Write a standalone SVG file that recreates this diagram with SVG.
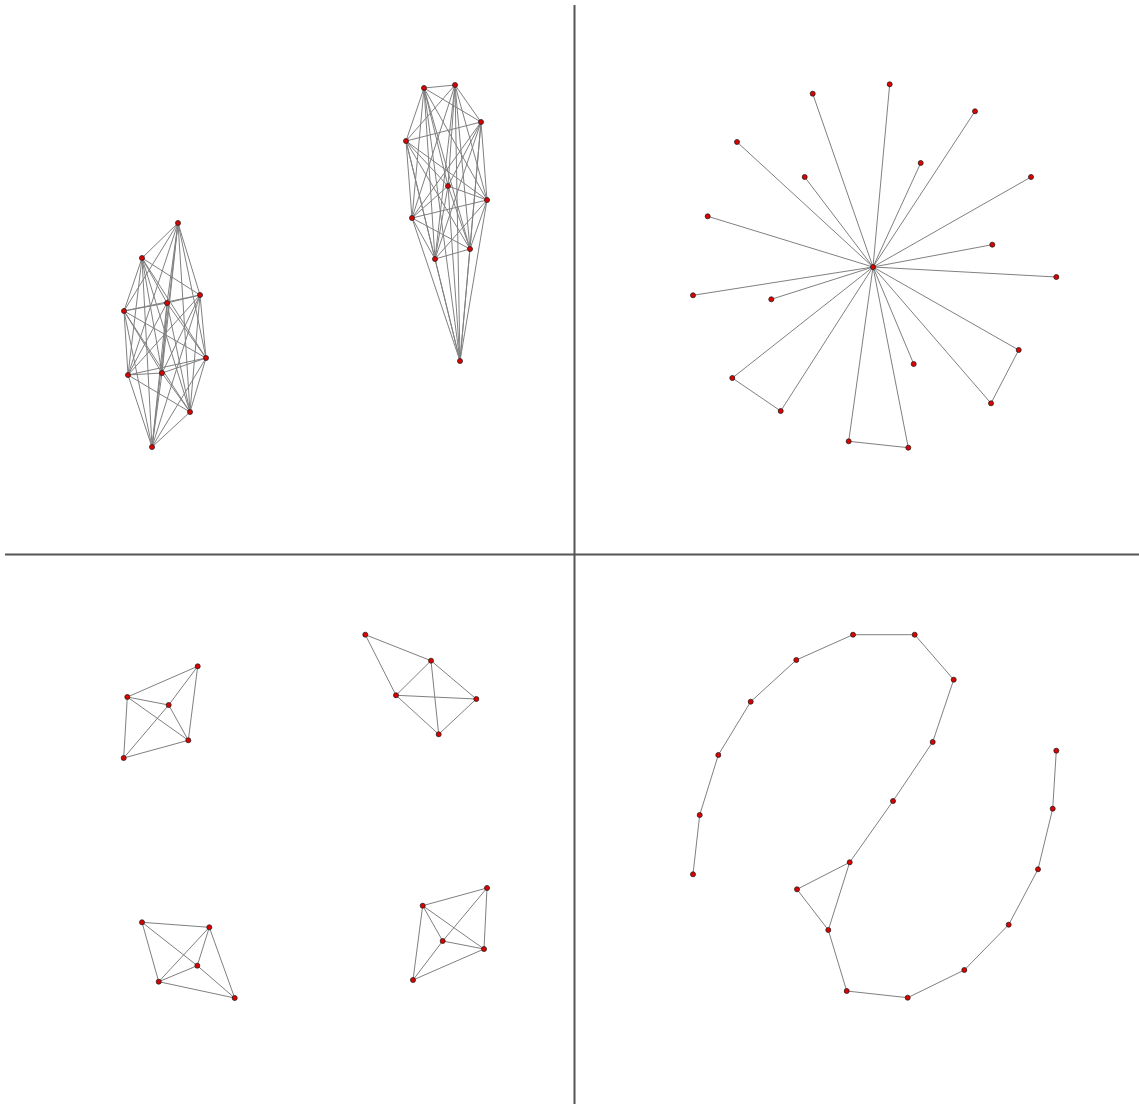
<svg xmlns="http://www.w3.org/2000/svg" width="1139" height="1104" viewBox="0 0 1139 1104">
<style>
.e{stroke:#808080;stroke-width:1;fill:none}
.n{fill:#e00000;stroke:#222;stroke-width:0.8}
.d{stroke:#555;stroke-width:2}
</style>
<rect width="1139" height="1104" fill="#fff"/>
<g id="dividers">
<line class="d" x1="574.5" y1="5" x2="574.5" y2="1104"/>
<line class="d" x1="5" y1="554.5" x2="1139" y2="554.5"/>
</g>
<g id="edges">
<!-- left K10 -->
<path class="e" d="M178 223L142 258M178 223L200 295M178 223L167 303M178 223L124 311M178 223L206 358M178 223L128 375M178 223L162 373M178 223L190 412M178 223L152 447
M142 258L200 295M142 258L167 303M142 258L124 311M142 258L206 358M142 258L128 375M142 258L162 373M142 258L190 412M142 258L152 447
M200 295L167 303M200 295L124 311M200 295L206 358M200 295L128 375M200 295L162 373M200 295L190 412M200 295L152 447
M167 303L124 311M167 303L206 358M167 303L128 375M167 303L162 373M167 303L190 412M167 303L152 447
M124 311L206 358M124 311L128 375M124 311L162 373M124 311L190 412M124 311L152 447
M206 358L128 375M206 358L162 373M206 358L190 412M206 358L152 447
M128 375L162 373M128 375L190 412M128 375L152 447
M162 373L190 412M162 373L152 447
M190 412L152 447"/>
<!-- right K10 -->
<path class="e" d="M424 88L455 85M424 88L481 122M424 88L406 141M424 88L448 186M424 88L487 200M424 88L412 218M424 88L435 259M424 88L470 249M424 88L460 361
M455 85L481 122M455 85L406 141M455 85L448 186M455 85L487 200M455 85L412 218M455 85L435 259M455 85L470 249M455 85L460 361
M481 122L406 141M481 122L448 186M481 122L487 200M481 122L412 218M481 122L435 259M481 122L470 249M481 122L460 361
M406 141L448 186M406 141L487 200M406 141L412 218M406 141L435 259M406 141L470 249M406 141L460 361
M448 186L487 200M448 186L412 218M448 186L435 259M448 186L470 249M448 186L460 361
M487 200L412 218M487 200L435 259M487 200L470 249M487 200L460 361
M412 218L435 259M412 218L470 249M412 218L460 361
M435 259L470 249M435 259L460 361
M470 249L460 361"/>
<!-- star -->
<path class="e" d="M873 267L889.7 84.3M873 267L812.7 93.7M873 267L975 111.3M873 267L737 142M873 267L920.7 163M873 267L804.7 177M873 267L1031 177M873 267L707.7 216.3M873 267L992.3 244.7M873 267L1056.3 277M873 267L693 295.3M873 267L771.3 299.3M873 267L1018.7 350M873 267L913.7 364M873 267L732.3 378M873 267L991 403.3M873 267L780.7 411M873 267L848.7 441.3M873 267L908.3 447.7
M732.3 378L780.7 411M1018.7 350L991 403.3M848.7 441.3L908.3 447.7"/>
<!-- cluster A -->
<path class="e" d="M197.7 666.3L127.3 697M197.7 666.3L168.7 705M197.7 666.3L188.3 740.3M127.3 697L168.7 705M127.3 697L188.3 740.3M127.3 697L123.7 758M168.7 705L188.3 740.3M168.7 705L123.7 758M188.3 740.3L123.7 758"/>
<!-- cluster B -->
<path class="e" d="M365.3 634.7L431 660.7M365.3 634.7L396 695.3M431 660.7L396 695.3M431 660.7L476.3 699M431 660.7L438.7 734.3M396 695.3L476.3 699M396 695.3L438.7 734.3M476.3 699L438.7 734.3"/>
<!-- cluster C -->
<path class="e" d="M142 922.3L209.3 927.3M142 922.3L158.7 981.7M142 922.3L197.3 965.7M209.3 927.3L158.7 981.7M209.3 927.3L197.3 965.7M209.3 927.3L234.7 998M197.3 965.7L158.7 981.7M158.7 981.7L234.7 998M197.3 965.7L234.7 998"/>
<!-- cluster D -->
<path class="e" d="M487 888L422.7 905.7M487 888L484 949M487 888L442.7 941M422.7 905.7L442.7 941M422.7 905.7L484 949M422.7 905.7L413 980M442.7 941L484 949M442.7 941L413 980M484 949L413 980"/>
<!-- path graph -->
<path class="e" d="M693 874.3L699.7 815L718.3 755L750.7 701.7L796.3 660L853 634.7L914.7 634.7L953.7 679.7L932.7 742L893 801L849.7 862.3L797 889.3L828.3 930L846.7 991L907.7 997.7L964.3 970L1008.7 924.7L1038 869.3L1052.7 808.7L1056.3 750.7M849.7 862.3L828.3 930"/>
</g>
<g id="nodes">
<g id="k10-left">
<circle class="n" cx="178" cy="223" r="2.5"/><circle class="n" cx="142" cy="258" r="2.5"/><circle class="n" cx="200" cy="295" r="2.5"/><circle class="n" cx="167" cy="303" r="2.5"/><circle class="n" cx="124" cy="311" r="2.5"/><circle class="n" cx="206" cy="358" r="2.5"/><circle class="n" cx="128" cy="375" r="2.5"/><circle class="n" cx="162" cy="373" r="2.5"/><circle class="n" cx="190" cy="412" r="2.5"/><circle class="n" cx="152" cy="447" r="2.5"/>
</g>
<g id="k10-right">
<circle class="n" cx="424" cy="88" r="2.5"/><circle class="n" cx="455" cy="85" r="2.5"/><circle class="n" cx="481" cy="122" r="2.5"/><circle class="n" cx="406" cy="141" r="2.5"/><circle class="n" cx="448" cy="186" r="2.5"/><circle class="n" cx="487" cy="200" r="2.5"/><circle class="n" cx="412" cy="218" r="2.5"/><circle class="n" cx="435" cy="259" r="2.5"/><circle class="n" cx="470" cy="249" r="2.5"/><circle class="n" cx="460" cy="361" r="2.5"/>
</g>
<g id="star">
<circle class="n" cx="873" cy="267" r="2.5"/><circle class="n" cx="889.7" cy="84.3" r="2.5"/><circle class="n" cx="812.7" cy="93.7" r="2.5"/><circle class="n" cx="975" cy="111.3" r="2.5"/><circle class="n" cx="737" cy="142" r="2.5"/><circle class="n" cx="920.7" cy="163" r="2.5"/><circle class="n" cx="804.7" cy="177" r="2.5"/><circle class="n" cx="1031" cy="177" r="2.5"/><circle class="n" cx="707.7" cy="216.3" r="2.5"/><circle class="n" cx="992.3" cy="244.7" r="2.5"/><circle class="n" cx="1056.3" cy="277" r="2.5"/><circle class="n" cx="693" cy="295.3" r="2.5"/><circle class="n" cx="771.3" cy="299.3" r="2.5"/><circle class="n" cx="1018.7" cy="350" r="2.5"/><circle class="n" cx="913.7" cy="364" r="2.5"/><circle class="n" cx="732.3" cy="378" r="2.5"/><circle class="n" cx="991" cy="403.3" r="2.5"/><circle class="n" cx="780.7" cy="411" r="2.5"/><circle class="n" cx="848.7" cy="441.3" r="2.5"/><circle class="n" cx="908.3" cy="447.7" r="2.5"/>
</g>
<g id="cluster-a">
<circle class="n" cx="197.7" cy="666.3" r="2.5"/><circle class="n" cx="127.3" cy="697" r="2.5"/><circle class="n" cx="168.7" cy="705" r="2.5"/><circle class="n" cx="188.3" cy="740.3" r="2.5"/><circle class="n" cx="123.7" cy="758" r="2.5"/>
</g>
<g id="cluster-b">
<circle class="n" cx="365.3" cy="634.7" r="2.5"/><circle class="n" cx="431" cy="660.7" r="2.5"/><circle class="n" cx="396" cy="695.3" r="2.5"/><circle class="n" cx="476.3" cy="699" r="2.5"/><circle class="n" cx="438.7" cy="734.3" r="2.5"/>
</g>
<g id="cluster-c">
<circle class="n" cx="142" cy="922.3" r="2.5"/><circle class="n" cx="209.3" cy="927.3" r="2.5"/><circle class="n" cx="197.3" cy="965.7" r="2.5"/><circle class="n" cx="158.7" cy="981.7" r="2.5"/><circle class="n" cx="234.7" cy="998" r="2.5"/>
</g>
<g id="cluster-d">
<circle class="n" cx="487" cy="888" r="2.5"/><circle class="n" cx="422.7" cy="905.7" r="2.5"/><circle class="n" cx="442.7" cy="941" r="2.5"/><circle class="n" cx="484" cy="949" r="2.5"/><circle class="n" cx="413" cy="980" r="2.5"/>
</g>
<g id="path-graph">
<circle class="n" cx="693" cy="874.3" r="2.5"/><circle class="n" cx="699.7" cy="815" r="2.5"/><circle class="n" cx="718.3" cy="755" r="2.5"/><circle class="n" cx="750.7" cy="701.7" r="2.5"/><circle class="n" cx="796.3" cy="660" r="2.5"/><circle class="n" cx="853" cy="634.7" r="2.5"/><circle class="n" cx="914.7" cy="634.7" r="2.5"/><circle class="n" cx="953.7" cy="679.7" r="2.5"/><circle class="n" cx="932.7" cy="742" r="2.5"/><circle class="n" cx="893" cy="801" r="2.5"/><circle class="n" cx="849.7" cy="862.3" r="2.5"/><circle class="n" cx="797" cy="889.3" r="2.5"/><circle class="n" cx="828.3" cy="930" r="2.5"/><circle class="n" cx="846.7" cy="991" r="2.5"/><circle class="n" cx="907.7" cy="997.7" r="2.5"/><circle class="n" cx="964.3" cy="970" r="2.5"/><circle class="n" cx="1008.7" cy="924.7" r="2.5"/><circle class="n" cx="1038" cy="869.3" r="2.5"/><circle class="n" cx="1052.7" cy="808.7" r="2.5"/><circle class="n" cx="1056.3" cy="750.7" r="2.5"/>
</g>
</g>
</svg>
